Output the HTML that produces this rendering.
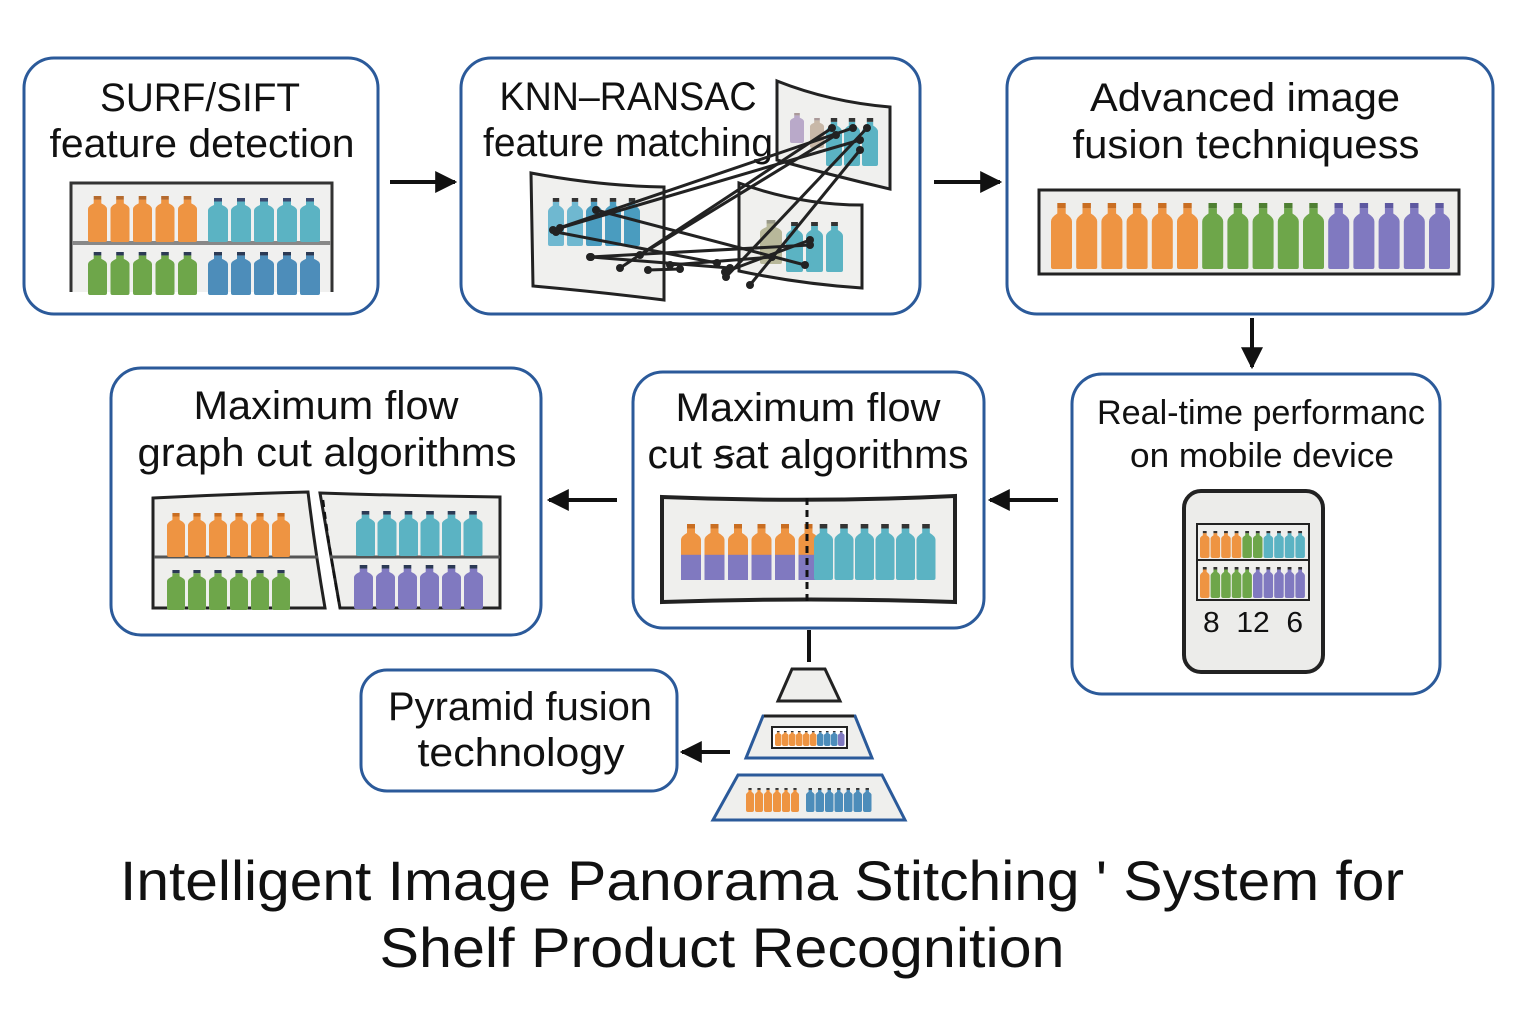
<!DOCTYPE html>
<html><head><meta charset="utf-8"><style>
html,body{margin:0;padding:0;background:#fff}
svg{display:block}
text{font-family:"Liberation Sans",Arial,sans-serif;fill:#111}
</style></head><body>
<svg id="s" width="1536" height="1024" viewBox="0 0 1536 1024" xmlns="http://www.w3.org/2000/svg">
<defs>
<marker id="ah2" viewBox="0 0 10 10" markerWidth="22" markerHeight="22" refX="9" refY="5" orient="auto" markerUnits="userSpaceOnUse"><path d="M0,0 L10,5 L0,10 z" fill="#111"/></marker>
</defs>
<g fill="#fff" stroke="#2b5a9a" stroke-width="3">
<rect x="24" y="58" width="354" height="256" rx="30"/>
<rect x="461" y="58" width="459" height="256" rx="30"/>
<rect x="1007" y="58" width="486" height="256" rx="30"/>
<rect x="1072" y="374" width="368" height="320" rx="30"/>
<rect x="633" y="372" width="351" height="256" rx="30"/>
<rect x="111" y="368" width="430" height="267" rx="30"/>
<rect x="361" y="670" width="316" height="121" rx="26"/>
</g>
<g font-size="40" text-anchor="middle" lengthAdjust="spacingAndGlyphs">
<text x="200" y="111" textLength="200" lengthAdjust="spacingAndGlyphs">SURF/SIFT</text>
<text x="202" y="157" textLength="305" lengthAdjust="spacingAndGlyphs">feature detection</text>
<text x="628" y="110" textLength="257" lengthAdjust="spacingAndGlyphs">KNN–RANSAC</text>
<text x="628" y="156" textLength="290" lengthAdjust="spacingAndGlyphs">feature matching</text>
<text x="1245" y="111" textLength="310" lengthAdjust="spacingAndGlyphs">Advanced image</text>
<text x="1246" y="158" textLength="347" lengthAdjust="spacingAndGlyphs">fusion techniquess</text>
<text x="326" y="419" textLength="265" lengthAdjust="spacingAndGlyphs">Maximum flow</text>
<text x="327" y="466" textLength="379" lengthAdjust="spacingAndGlyphs">graph cut algorithms</text>
<text x="808" y="421" textLength="265" lengthAdjust="spacingAndGlyphs">Maximum flow</text>
<text x="808" y="468" textLength="321" lengthAdjust="spacingAndGlyphs">cut ꞩat algorithms</text>
<text x="520" y="720" textLength="264" lengthAdjust="spacingAndGlyphs">Pyramid fusion</text>
<text x="521" y="766" textLength="207" lengthAdjust="spacingAndGlyphs">technology</text>
</g>
<g font-size="34" text-anchor="middle">
<text x="1261" y="424" textLength="328" lengthAdjust="spacingAndGlyphs">Real-time performanc</text>
<text x="1262" y="467" textLength="264" lengthAdjust="spacingAndGlyphs">on mobile device</text>
</g>
<g font-size="56" text-anchor="middle">
<text x="762" y="900" textLength="1284" lengthAdjust="spacingAndGlyphs">Intelligent Image Panorama Stitching ' System for</text>
<text x="722" y="967" textLength="685" lengthAdjust="spacingAndGlyphs">Shelf Product Recognition</text>
</g>
<g stroke="#111" stroke-width="4" fill="none">
<line x1="390" y1="182" x2="455" y2="182" marker-end="url(#ah2)"/>
<line x1="934" y1="182" x2="1000" y2="182" marker-end="url(#ah2)"/>
<line x1="1252" y1="318" x2="1252" y2="367" marker-end="url(#ah2)"/>
<line x1="1058" y1="500" x2="990" y2="500" marker-end="url(#ah2)"/>
<line x1="617" y1="500" x2="549" y2="500" marker-end="url(#ah2)"/>
<line x1="730" y1="752" x2="682" y2="752" marker-end="url(#ah2)"/>
<line x1="809" y1="630" x2="809" y2="662"/>
</g>
<rect x="71" y="183" width="261" height="112" fill="#f0f0ef" stroke="#333" stroke-width="3"/>
<line x1="72" y1="243" x2="331" y2="243" stroke="#888" stroke-width="4"/>
<rect x="68" y="292" width="268" height="6" fill="#fff"/>
<g fill="#f0f0ee" stroke="#222" stroke-width="3">
<path d="M531,173 Q600,186 664,187 L664,300 Q600,292 533,286 Z"/>
<path d="M777,81 Q830,102 890,107 L890,189 Q830,175 777,160 Z"/>
<path d="M739,183 Q800,205 862,205 L862,288 Q800,284 739,271 Z"/>
</g>
<rect x="1039" y="190" width="420" height="84" fill="#eeeeec" stroke="#222" stroke-width="3"/>
<path d="M662,497 Q810,503 955,496 L955,602 Q810,597 662,602 Z" fill="#efefed" stroke="#222" stroke-width="4"/>
<path d="M153,498 Q230,494 308,492 Q315,550 325,608 L153,608 Z" fill="#efefed" stroke="#222" stroke-width="3"/>
<path d="M320,493 Q410,496 500,497 L500,608 L340,608 Q330,550 320,493 Z" fill="#efefed" stroke="#222" stroke-width="3"/>
<line x1="154" y1="557" x2="318" y2="557" stroke="#555" stroke-width="3"/>
<line x1="330" y1="557" x2="500" y2="557" stroke="#555" stroke-width="3"/>
<rect x="1184" y="491" width="139" height="181" rx="17" fill="#ececea" stroke="#222" stroke-width="4"/>
<rect x="1197" y="524" width="112" height="76" fill="#efefed" stroke="#222" stroke-width="2"/>
<line x1="1197" y1="560" x2="1309" y2="560" stroke="#222" stroke-width="2"/>
<text x="1253" y="632" font-size="29" text-anchor="middle" textLength="100" lengthAdjust="spacingAndGlyphs">8&#160;&#160;12&#160;&#160;6</text>
<g fill="#efefed" stroke="#2b5a9a" stroke-width="3">
<path d="M792,669 L825,669 L840,701 L778,701 Z" stroke="#222"/>
<path d="M763,716 L855,716 L872,758 L746,758 Z"/>
<path d="M738,775 L882,775 L905,820 L713,820 Z"/>
</g>
<path d="M764,716 L854,716" stroke="#222" stroke-width="3"/>
<rect x="772" y="727" width="75" height="21" fill="#fff" stroke="#222" stroke-width="2"/>
<g id="bot"></g>
<g id="ln"></g>
</svg>
<script>
var NS="http://www.w3.org/2000/svg",g=document.getElementById('bot');
function B(x,y,w,h,c,cap,c2){
 var p=document.createElementNS(NS,'path');
 var nx1=x+w*0.3,nx2=x+w*0.7,sh=y+h*0.28,ct=h*0.08;
 var d="M"+nx1+","+(y+ct)+" L"+nx2+","+(y+ct)+" L"+nx2+","+(y+h*0.16)+" Q"+(x+w)+","+(y+h*0.22)+" "+(x+w)+","+sh+" L"+(x+w)+","+(y+h-2)+" Q"+(x+w)+","+(y+h)+" "+(x+w-2)+","+(y+h)+" L"+(x+2)+","+(y+h)+" Q"+x+","+(y+h)+" "+x+","+(y+h-2)+" L"+x+","+sh+" Q"+x+","+(y+h*0.22)+" "+nx1+","+(y+h*0.16)+" Z";
 p.setAttribute('d',d);p.setAttribute('fill',c);g.appendChild(p);
 if(c2){var r=document.createElementNS(NS,'rect');r.setAttribute('x',x);r.setAttribute('y',y+h*0.55);r.setAttribute('width',w);r.setAttribute('height',h*0.45);r.setAttribute('fill',c2);g.appendChild(r);}
 var q=document.createElementNS(NS,'rect');q.setAttribute('x',nx1);q.setAttribute('y',y);q.setAttribute('width',nx2-nx1);q.setAttribute('height',ct);q.setAttribute('fill',cap||'#333');g.appendChild(q);
}
var O='#ee9442',T='#5bb3c3',G='#6ea64a',P='#8079c0',Bl='#4d8dba';
var i;
for(i=0;i<5;i++)B(88+i*22.5,196,19,46,O,'#b56a2e');
for(i=0;i<5;i++)B(208+i*23,198,20,44,T,'#3c4a70');
for(i=0;i<5;i++)B(88+i*22.5,252,19,43,G,'#2c3a55');
for(i=0;i<5;i++)B(208+i*23,252,20,43,Bl,'#2c3a55');
for(i=0;i<5;i++)B(548+i*19,198,16,48,i<2?'#6fb8d0':'#4a9cbf');
B(790,113,14,30,'#b9a9c9','#a99');B(810,118,14,30,'#c8b8a8','#a99');
for(i=0;i<3;i++)B(826+i*18,118,16,48,T);
B(760,220,22,44,'#b8b89a','#998');
for(i=0;i<3;i++)B(786+i*20,222,17,50,T);
var cols=[O,O,O,O,O,O,G,G,G,G,G,P,P,P,P,P];
for(i=0;i<16;i++)B(1051+i*25.2,203,21,66,cols[i],cols[i]==O?'#c96e22':(cols[i]==G?'#4e7f32':'#5d58a0'));
for(i=0;i<6;i++)B(681+i*23.5,524,20,56,O,'#c96e22',P);
for(i=0;i<6;i++)B(814+i*20.5,524,19,56,T,'#333');
for(i=0;i<6;i++)B(167+i*21,513,18,44,O,'#c96e22');
for(i=0;i<6;i++)B(167+i*21,570,18,40,G,'#2c3a55');
for(i=0;i<6;i++)B(356+i*21.5,511,19,45,T,'#2c3a55');
for(i=0;i<6;i++)B(354+i*22,565,19,44,P,'#2c3a55');
var pc1=[O,O,O,O,G,G,T,T,T,T],pc2=[O,G,G,G,G,P,P,P,P,P];
for(i=0;i<10;i++)B(1200+i*10.6,531,9.5,27,pc1[i]);
for(i=0;i<10;i++)B(1200+i*10.6,567,9.5,31,pc2[i]);
var m=[O,O,O,O,O,O,Bl,Bl,Bl,P];
for(i=0;i<10;i++)B(775+i*7,731,6.5,15,m[i]);
for(i=0;i<6;i++)B(746+i*9,788,8,24,O);
for(i=0;i<7;i++)B(806+i*9.5,788,8.5,24,Bl);
var L=[[560,228,860,140],[553,230,853,128],[596,210,805,265],[556,232,717,263],[670,265,772,257],[590,257,810,245],[620,268,832,128],[725,272,810,240],[726,277,867,128],[750,285,860,150],[591,257,730,268],[640,255,836,135],[648,270,680,269]];
var gl=document.getElementById('ln');
L.forEach(function(a){var l=document.createElementNS(NS,'line');l.setAttribute('x1',a[0]);l.setAttribute('y1',a[1]);l.setAttribute('x2',a[2]);l.setAttribute('y2',a[3]);l.setAttribute('stroke','#222');l.setAttribute('stroke-width','3');gl.appendChild(l);
[[a[0],a[1]],[a[2],a[3]]].forEach(function(pt){var c=document.createElementNS(NS,'circle');c.setAttribute('cx',pt[0]);c.setAttribute('cy',pt[1]);c.setAttribute('r','4');c.setAttribute('fill','#222');gl.appendChild(c);});});
function dash(d,w){var p=document.createElementNS(NS,'path');p.setAttribute('d',d);p.setAttribute('stroke','#111');p.setAttribute('stroke-width',w);p.setAttribute('fill','none');p.setAttribute('stroke-dasharray','7,5');gl.appendChild(p);}
dash("M807,498 L807,602",3);
dash("M323,500 Q330,555 340,608",2.5);
</script>
</body></html>
